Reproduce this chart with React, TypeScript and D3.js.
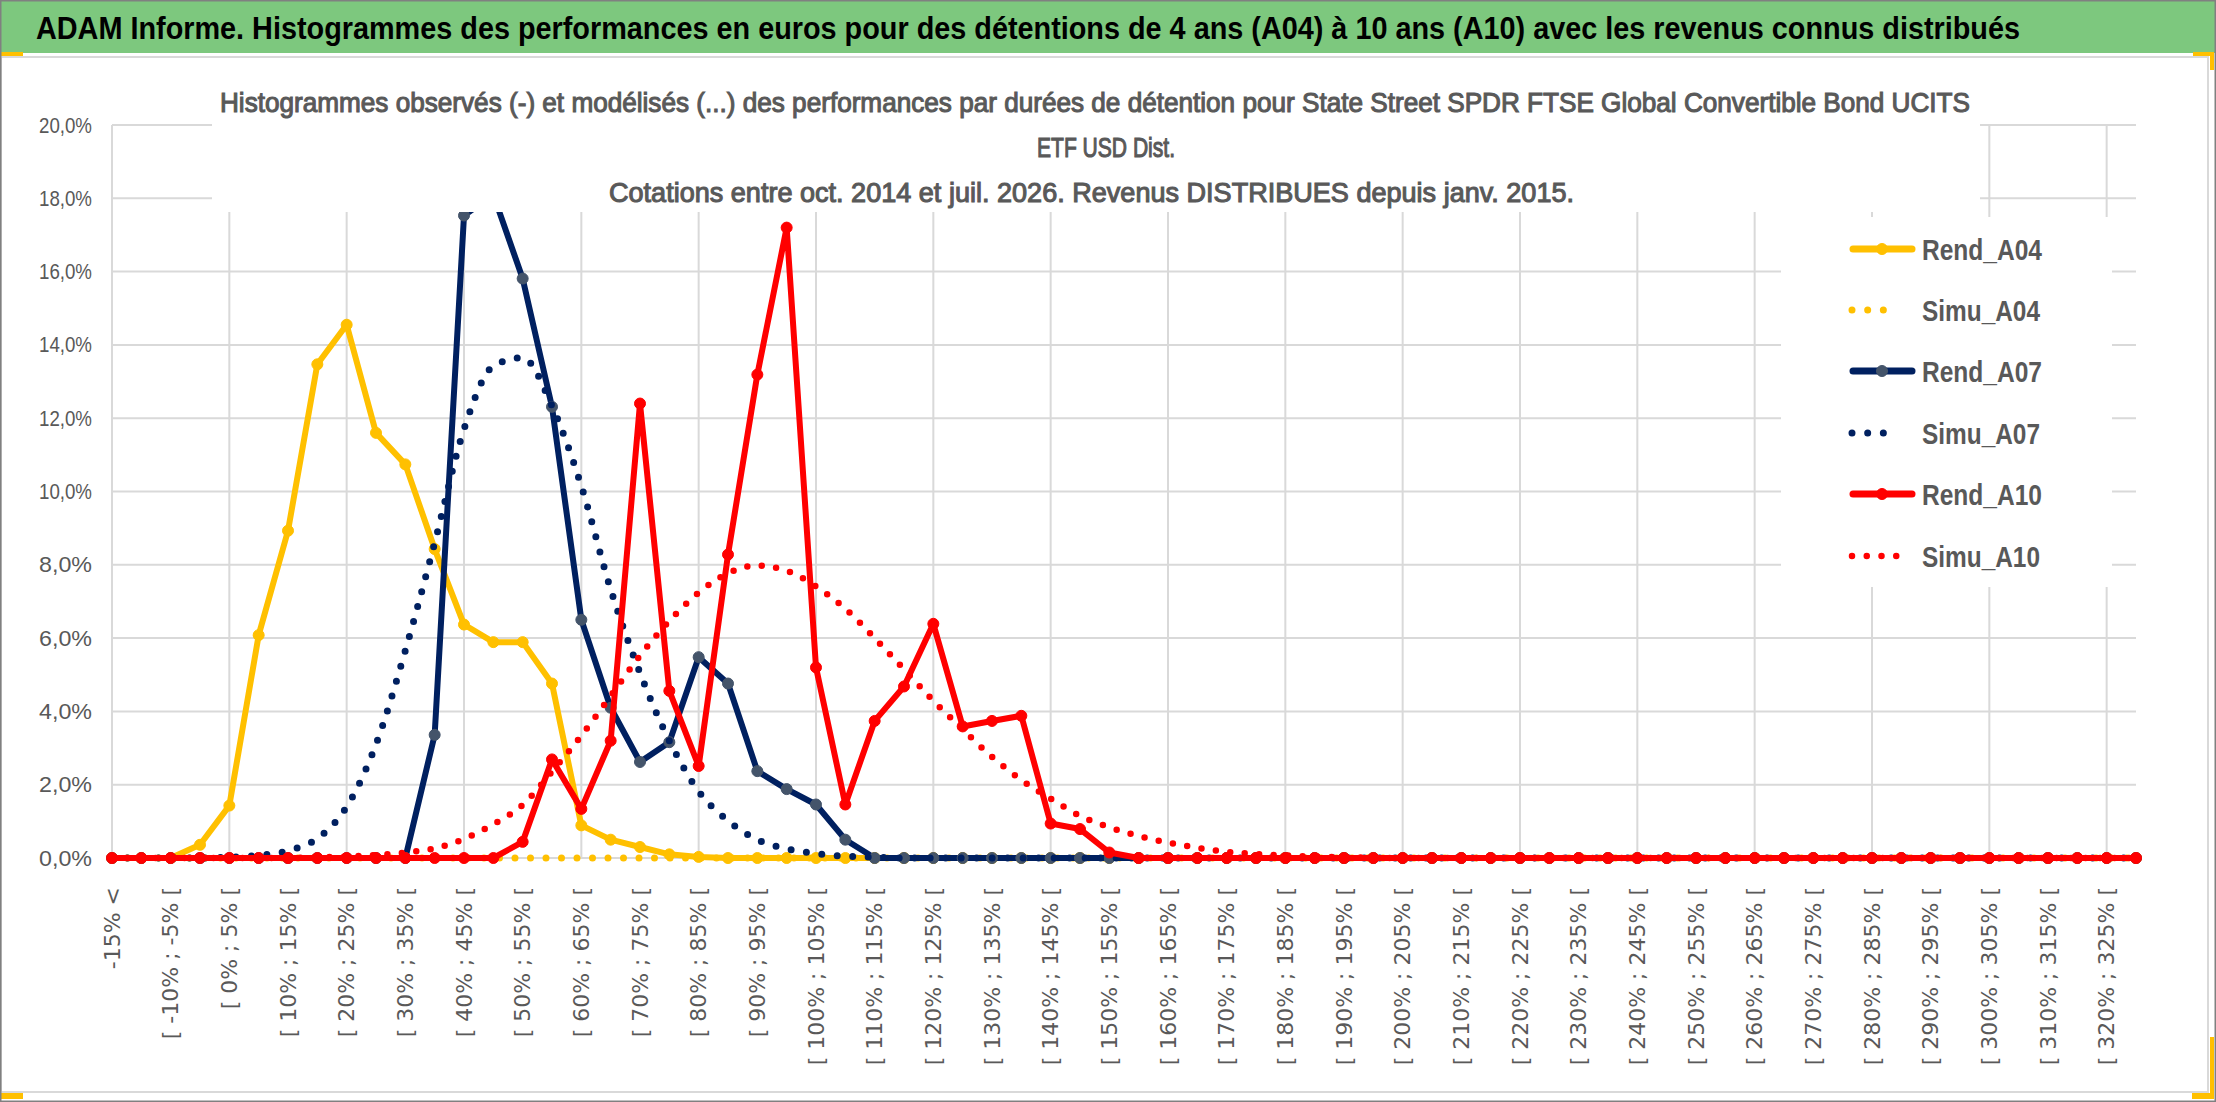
import React from "react";
import * as d3 from "d3";

// ---------- DATA ----------
const categories: string[] = [
  "-15% <", "[ -15% ; -10% [", "[ -10% ; -5% [", "[ -5% ; 0% [", "[ 0% ; 5% [", "[ 5% ; 10% [",
  "[ 10% ; 15% [", "[ 15% ; 20% [", "[ 20% ; 25% [", "[ 25% ; 30% [", "[ 30% ; 35% [", "[ 35% ; 40% [",
  "[ 40% ; 45% [", "[ 45% ; 50% [", "[ 50% ; 55% [", "[ 55% ; 60% [", "[ 60% ; 65% [", "[ 65% ; 70% [",
  "[ 70% ; 75% [", "[ 75% ; 80% [", "[ 80% ; 85% [", "[ 85% ; 90% [", "[ 90% ; 95% [", "[ 95% ; 100% [",
  "[ 100% ; 105% [", "[ 105% ; 110% [", "[ 110% ; 115% [", "[ 115% ; 120% [", "[ 120% ; 125% [", "[ 125% ; 130% [",
  "[ 130% ; 135% [", "[ 135% ; 140% [", "[ 140% ; 145% [", "[ 145% ; 150% [", "[ 150% ; 155% [", "[ 155% ; 160% [",
  "[ 160% ; 165% [", "[ 165% ; 170% [", "[ 170% ; 175% [", "[ 175% ; 180% [", "[ 180% ; 185% [", "[ 185% ; 190% [",
  "[ 190% ; 195% [", "[ 195% ; 200% [", "[ 200% ; 205% [", "[ 205% ; 210% [", "[ 210% ; 215% [", "[ 215% ; 220% [",
  "[ 220% ; 225% [", "[ 225% ; 230% [", "[ 230% ; 235% [", "[ 235% ; 240% [", "[ 240% ; 245% [", "[ 245% ; 250% [",
  "[ 250% ; 255% [", "[ 255% ; 260% [", "[ 260% ; 265% [", "[ 265% ; 270% [", "[ 270% ; 275% [", "[ 275% ; 280% [",
  "[ 280% ; 285% [", "[ 285% ; 290% [", "[ 290% ; 295% [", "[ 295% ; 300% [", "[ 300% ; 305% [", "[ 305% ; 310% [",
  "[ 310% ; 315% [", "[ 315% ; 320% [", "[ 320% ; 325% [", "[ 325% ; 330% [",
];

const rendA04: number[] = [
  0, 0, 0, 0.36, 1.43, 6.08, 8.93, 13.47, 14.55, 11.6, 10.74, 8.43, 6.37, 5.89, 5.89, 4.76, 0.89, 0.5, 0.3, 0.1,
  0.03, 0, 0, 0, 0, 0, 0, 0, 0, 0, 0, 0, 0, 0, 0, 0, 0, 0, 0, 0,
  0, 0, 0, 0, 0, 0, 0, 0, 0, 0, 0, 0, 0, 0, 0, 0, 0, 0, 0, 0,
  0, 0, 0, 0, 0, 0, 0, 0, 0, 0,
];
const simuA04: number[] = [
  0, 0, 0, 0, 0, 0, 0, 0, 0, 0, 0, 0, 0, 0, 0, 0, 0, 0, 0, 0,
  0, 0, 0, 0, 0, 0, 0, 0, 0, 0, 0, 0, 0, 0, 0, 0, 0, 0, 0, 0,
  0, 0, 0, 0, 0, 0, 0, 0, 0, 0, 0, 0, 0, 0, 0, 0, 0, 0, 0, 0,
  0, 0, 0, 0, 0, 0, 0, 0, 0, 0,
];
const rendA07: number[] = [
  0, 0, 0, 0, 0, 0, 0, 0, 0, 0, 0, 3.36, 17.53, 18.1, 15.81, 12.31, 6.5, 4.1, 2.62, 3.16,
  5.48, 4.76, 2.37, 1.88, 1.46, 0.5, 0, 0, 0, 0, 0, 0, 0, 0, 0, 0, 0, 0, 0, 0,
  0, 0, 0, 0, 0, 0, 0, 0, 0, 0, 0, 0, 0, 0, 0, 0, 0, 0, 0, 0,
  0, 0, 0, 0, 0, 0, 0, 0, 0, 0,
];
const simuA07: number[] = [
  0, 0, 0, 0, 0.02, 0.07, 0.2, 0.53, 1.4, 3.1, 5.66, 8.6, 11.7, 13.42, 13.65, 12.33, 10.15, 7.33, 5.05, 3.2,
  1.82, 1.02, 0.5, 0.25, 0.12, 0.05, 0.02, 0, 0, 0, 0, 0, 0, 0, 0, 0, 0, 0, 0, 0,
  0, 0, 0, 0, 0, 0, 0, 0, 0, 0, 0, 0, 0, 0, 0, 0, 0, 0, 0, 0,
  0, 0, 0, 0, 0, 0, 0, 0, 0, 0,
];
const rendA10: number[] = [
  0, 0, 0, 0, 0, 0, 0, 0, 0, 0, 0, 0, 0, 0, 0.44, 2.69, 1.34, 3.2, 12.4, 4.56,
  2.51, 8.28, 13.19, 17.2, 5.2, 1.46, 3.74, 4.68, 6.39, 3.59, 3.74, 3.88, 0.94, 0.79, 0.15, 0, 0, 0, 0, 0,
  0, 0, 0, 0, 0, 0, 0, 0, 0, 0, 0, 0, 0, 0, 0, 0, 0, 0, 0, 0,
  0, 0, 0, 0, 0, 0, 0, 0, 0, 0,
];
const simuA10: number[] = [
  0, 0, 0, 0, 0, 0, 0, 0.02, 0.04, 0.08, 0.15, 0.26, 0.52, 0.92, 1.45, 2.36, 3.34, 4.42, 5.52, 6.47,
  7.24, 7.77, 7.98, 7.84, 7.41, 6.8, 6.0, 5.15, 4.29, 3.51, 2.76, 2.13, 1.62, 1.15, 0.84, 0.6, 0.42, 0.28, 0.17, 0.11,
  0.07, 0.04, 0.02, 0.01, 0, 0, 0, 0, 0, 0, 0, 0, 0, 0, 0, 0, 0, 0, 0, 0,
  0, 0, 0, 0, 0, 0, 0, 0, 0, 0,
];

const yTicks: number[] = [0, 2, 4, 6, 8, 10, 12, 14, 16, 18, 20];
const seriesNames: string[] = ["Rend_A04", "Simu_A04", "Rend_A07", "Simu_A07", "Rend_A10", "Simu_A10"];

const titleText = "ADAM Informe. Histogrammes des performances en euros pour des détentions de 4 ans (A04) à 10 ans (A10) avec les revenus connus distribués";
const subtitleLines: string[] = [
  "Histogrammes observés (-) et modélisés (...) des performances par durées de détention pour State Street SPDR FTSE Global Convertible Bond UCITS",
  "ETF USD Dist.",
  "Cotations entre oct. 2014 et juil. 2026. Revenus DISTRIBUES depuis janv. 2015.",
];

// ---------- STYLE ----------
const W = 2216;
const H = 1102;
const CAL = "'Liberation Sans Narrow', 'Liberation Sans', Arial, sans-serif";
const GRAY = "#595959";
const GRID = "#D9D9D9";
const YELLOW = "#FFC000";
const NAVY = "#002060";
const RED = "#FF0000";

type Series = {
  name: string;
  values: number[];
  color: string;
  dotted: boolean;
  marker?: string;
  width: number;
  dash?: string;
};

const series: Series[] = [
  { name: seriesNames[0], values: rendA04, color: YELLOW, dotted: false, marker: YELLOW, width: 6 },
  { name: seriesNames[1], values: simuA04, color: YELLOW, dotted: true, width: 7, dash: "0 15.5" },
  { name: seriesNames[2], values: rendA07, color: NAVY, dotted: false, marker: "#44546A", width: 6 },
  { name: seriesNames[3], values: simuA07, color: NAVY, dotted: true, width: 7, dash: "0 15.5" },
  { name: seriesNames[4], values: rendA10, color: RED, dotted: false, marker: RED, width: 6 },
  { name: seriesNames[5], values: simuA10, color: RED, dotted: true, width: 6.5, dash: "0 14.5" },
];

const TITLE_SX = 0.82;

export default function App() {
  const x = d3.scalePoint<number>().domain(d3.range(categories.length)).range([112, 2136]);
  const y = d3.scaleLinear().domain([0, 20]).range([858, 125]);

  const solidLine = d3
    .line<number>()
    .x((_, i) => x(i) as number)
    .y((d) => y(d));
  const smoothLine = d3
    .line<number>()
    .x((_, i) => x(i) as number)
    .y((d) => y(d))
    .curve(d3.curveMonotoneX);

  const fmt = (v: number) => v.toFixed(1).replace(".", ",") + "%";

  const legendRows = [249, 310, 371, 433, 494, 556];
  const legendTextWidths = [120, 118, 120, 118, 120, 118];

  const subX = [220, 1037, 609];
  const subY = [112, 157, 202];
  const subW = [1750, 138, 965];

  return (
    <svg
      width={W}
      height={H}
      viewBox={`0 0 ${W} ${H}`}
      style={{ position: "fixed", left: 0, top: 0, background: "#fff" }}
    >
      <rect x={0} y={0} width={W} height={H} fill="#ffffff" />

      {/* title bar */}
      <rect x={0} y={0} width={W} height={53} fill="#7DC87E" />
      <g transform={`translate(36,39) scale(${TITLE_SX},1)`}>
        <text
          x={0}
          y={0}
          fontFamily={CAL}
          fontWeight="bold"
          fontSize={32}
          fill="#000000"
          textLength={1984 / TITLE_SX}
          lengthAdjust="spacingAndGlyphs"
        >
          {titleText}
        </text>
      </g>

      {/* chart area border */}
      <rect x={1} y={57} width={2207} height={1035} fill="none" stroke={GRID} strokeWidth={2} />

      {/* gridlines */}
      <g>
        {yTicks.map((t) => (
          <line key={"h" + t} x1={112} x2={2136} y1={y(t)} y2={y(t)} stroke={GRID} strokeWidth={2} />
        ))}
        {categories.map((c, i) =>
          i % 4 === 0 ? (
            <line key={"v" + i} x1={x(i)} x2={x(i)} y1={y(20)} y2={y(0)} stroke={GRID} strokeWidth={2} />
          ) : null
        )}
      </g>

      {/* series */}
      <g>
        {series.map((s) =>
          s.dotted ? (
            <path
              key={s.name}
              d={smoothLine(s.values) || ""}
              fill="none"
              stroke={s.color}
              strokeWidth={s.width}
              strokeDasharray={s.dash}
              strokeLinecap="round"
            />
          ) : (
            <g key={s.name}>
              <path
                d={solidLine(s.values) || ""}
                fill="none"
                stroke={s.color}
                strokeWidth={s.width}
                strokeLinejoin="round"
                strokeLinecap="round"
              />
              {s.values.map((v, i) => (
                <circle key={i} cx={x(i)} cy={y(v)} r={5.5} fill={s.marker} stroke={s.marker} strokeWidth={1} />
              ))}
            </g>
          )
        )}
      </g>

      {/* y axis labels */}
      <g>
        {yTicks.map((t) => (
          <text
            key={"yl" + t}
            x={92}
            y={y(t)}
            textAnchor="end"
            dominantBaseline="central"
            fontFamily={CAL}
            fontSize={22}
            fill={GRAY}
            textLength={53}
            lengthAdjust="spacingAndGlyphs"
          >
            {fmt(t)}
          </text>
        ))}
      </g>

      {/* x axis labels */}
      <g>
        {categories.map((c, i) =>
          i % 2 === 0 ? (
            <text
              key={"xl" + i}
              transform={`translate(${x(i)},887) rotate(-90)`}
              textAnchor="end"
              dominantBaseline="central"
              fontFamily="'DejaVu Sans', Verdana, sans-serif"
              fontSize={22}
              fill={GRAY}
            >
              {c}
            </text>
          ) : null
        )}
      </g>

      {/* chart title box */}
      <rect x={212} y={59} width={1768} height={153} fill="#ffffff" />
      {subtitleLines.map((line, k) => (
        <text
          key={"st" + k}
          x={subX[k]}
          y={subY[k]}
          fontFamily={CAL}
          fontSize={28}
          fill={GRAY}
          stroke={GRAY}
          strokeWidth={1.1}
          textLength={subW[k]}
          lengthAdjust="spacingAndGlyphs"
        >
          {line}
        </text>
      ))}

      {/* legend */}
      <rect x={1781} y={217} width={331} height={370} fill="#ffffff" />
      {series.map((s, k) => {
        const ly = legendRows[k];
        return (
          <g key={"lg" + k}>
            {s.dotted ? (
              <line
                x1={1852}
                x2={s.name === "Simu_A10" ? 1911 : 1899}
                y1={ly}
                y2={ly}
                stroke={s.color}
                strokeWidth={s.width}
                strokeDasharray={s.name === "Simu_A10" ? "0 14.75" : "0 15.67"}
                strokeLinecap="round"
              />
            ) : (
              <g>
                <line x1={1853} x2={1912} y1={ly} y2={ly} stroke={s.color} strokeWidth={7} strokeLinecap="round" />
                <circle cx={1882} cy={ly} r={5.5} fill={s.marker} stroke={s.marker} strokeWidth={1} />
              </g>
            )}
            <text
              x={1922}
              y={ly}
              dominantBaseline="central"
              fontFamily={CAL}
              fontWeight="bold"
              fontSize={30}
              fill={GRAY}
              textLength={legendTextWidths[k]}
              lengthAdjust="spacingAndGlyphs"
            >
              {s.name}
            </text>
          </g>
        );
      })}

      {/* selection corner marks */}
      <rect x={0} y={52} width={23} height={4} fill={YELLOW} />
      <rect x={2193} y={52} width={21} height={4} fill={YELLOW} />
      <rect x={2210} y={52} width={4} height={18} fill={YELLOW} />
      <rect x={0} y={1093} width={23} height={6} fill={YELLOW} />
      <rect x={2210} y={1037} width={4} height={61} fill={YELLOW} />
      <rect x={2192} y={1093} width={22} height={6} fill={YELLOW} />

      {/* outer frame */}
      <rect x={0.75} y={0.75} width={W - 1.5} height={H - 1.5} fill="none" stroke="#808080" strokeWidth={1.5} />
    </svg>
  );
}
